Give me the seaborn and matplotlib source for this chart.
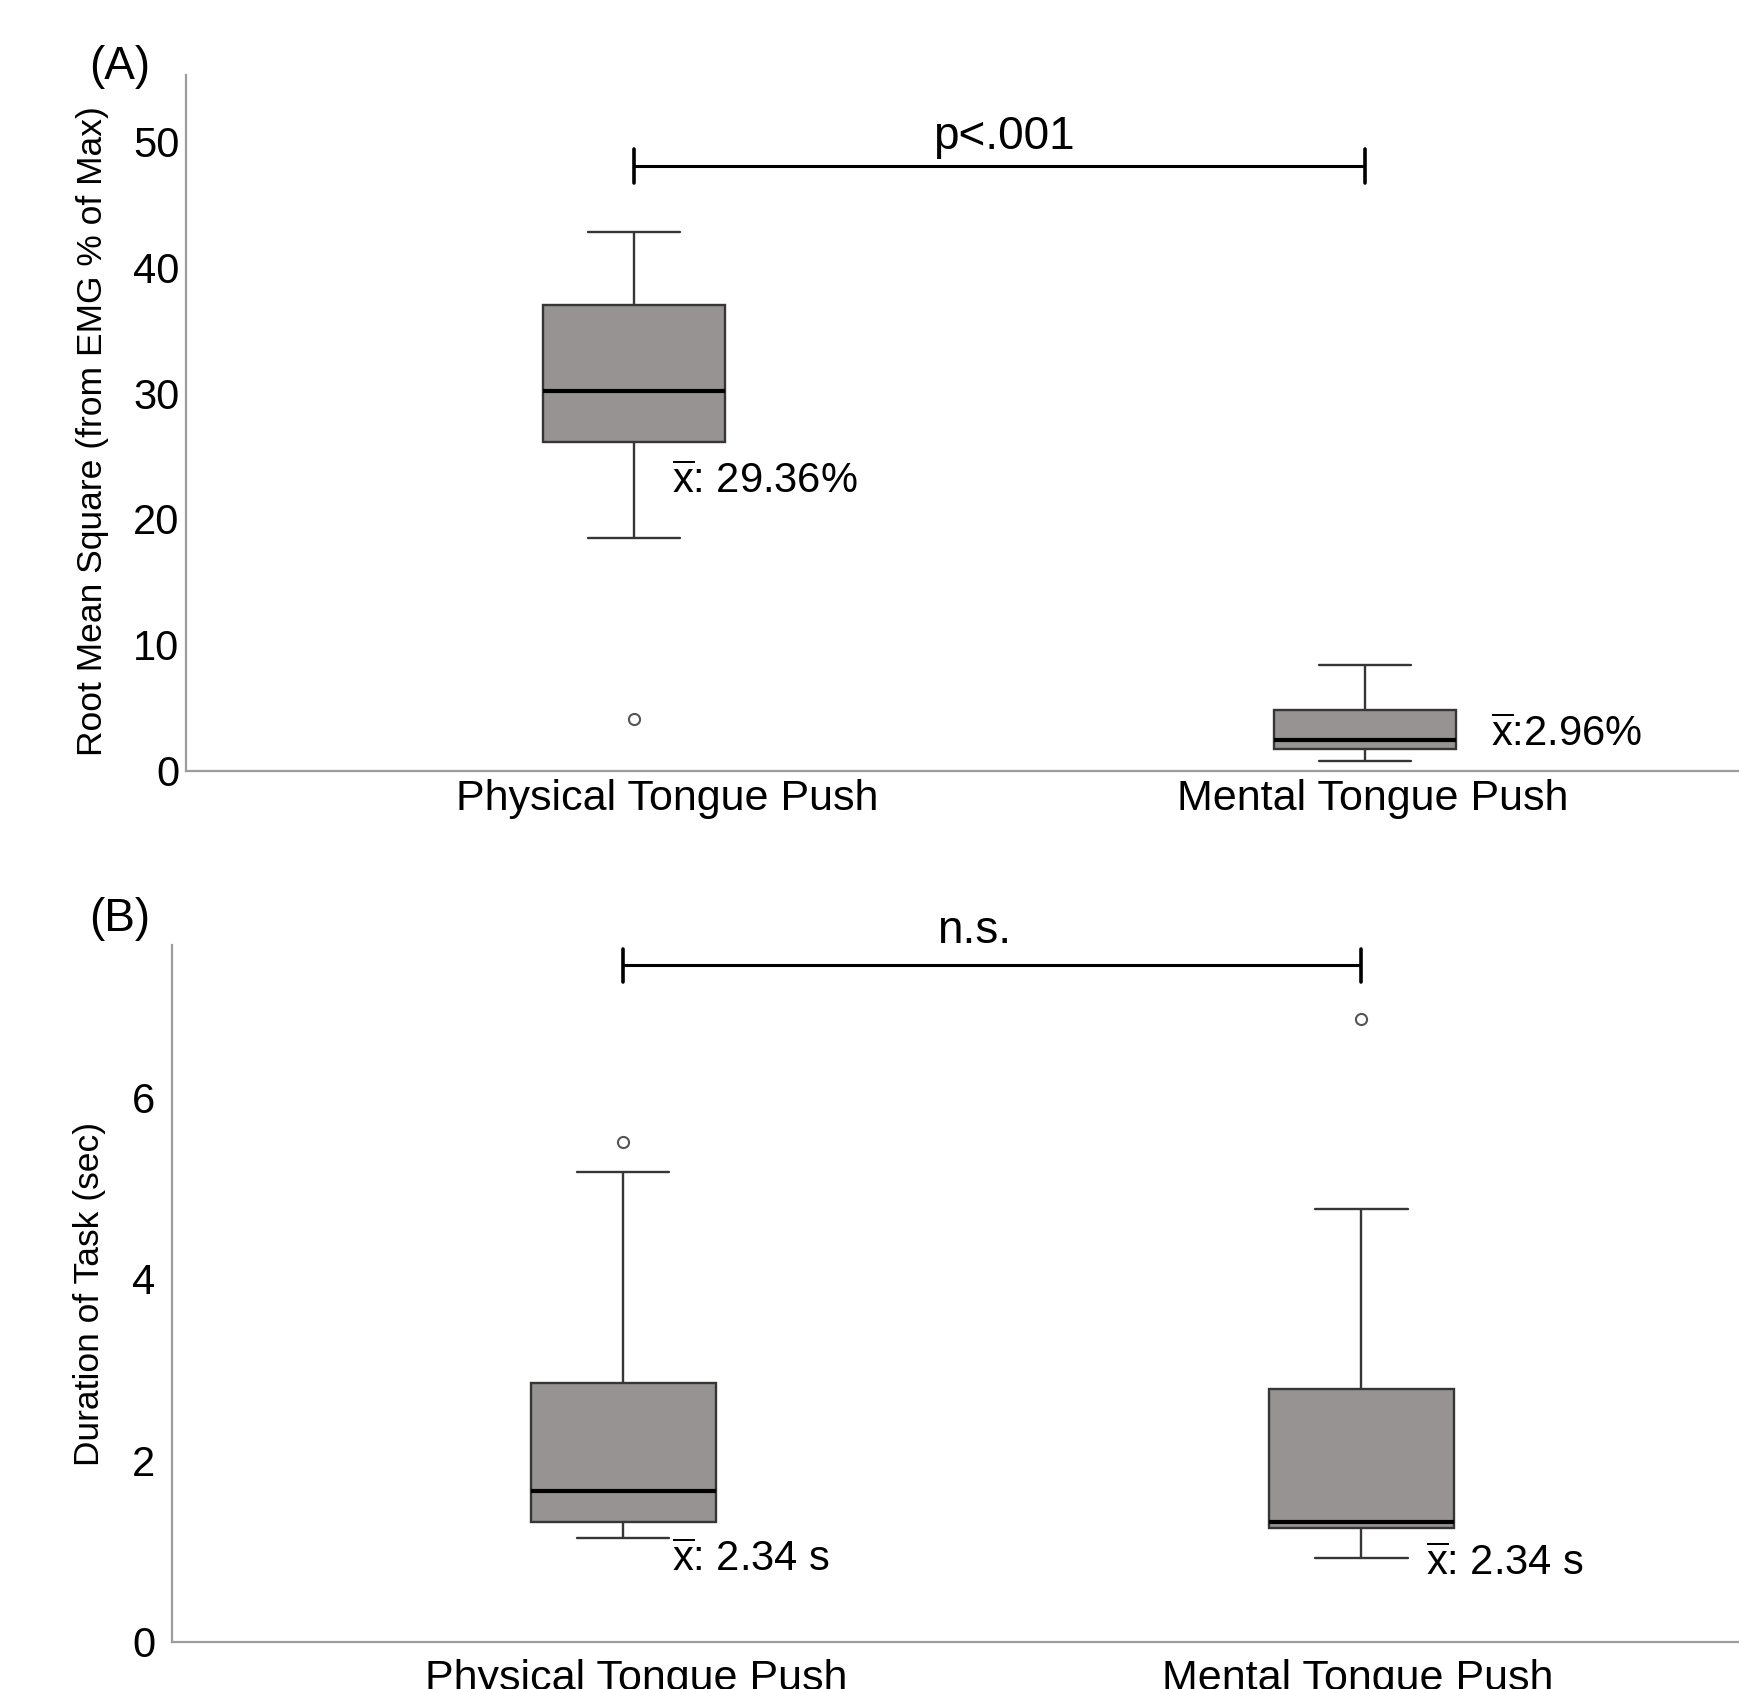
import numpy as np
import pandas as pd
import matplotlib
matplotlib.use('Agg')
import matplotlib.pyplot as plt
import matplotlib.transforms as mtransforms
from matplotlib import font_manager
import seaborn as sns

# Categories on the x axis
groups = ['Physical Tongue Push', 'Mental Tongue Push']

# Box summaries: lower whisker, Q1, median, Q3, upper whisker
rms_physical = [18.5, 26.15, 30.2, 37.0, 42.8]
rms_mental = [0.77, 1.72, 2.46, 4.8, 8.35]
rms_outliers = [[4.1], []]
rms_mean_labels = [r'$\overline{\mathrm{x}}$: 29.36%', r'$\overline{\mathrm{x}}$:2.96%']

dur_physical = [1.15, 1.32, 1.66, 2.85, 5.18]
dur_mental = [0.92, 1.26, 1.32, 2.79, 4.77]
dur_outliers = [[5.51], [6.86]]
dur_mean_labels = [r'$\overline{\mathrm{x}}$: 2.34 s', r'$\overline{\mathrm{x}}$: 2.34 s']

BOX_FILL = '#969392'
EDGE = '#363636'
SPINE = '#9c9c9c'


# Rebuild a point set whose quartiles / whiskers equal the read-off summary
def expand_summary(summary, outliers):
    lo, q1, med, q3, hi = summary
    if not outliers:
        return [lo, q1, med, q3, hi]
    core = [lo, q1, med, med, med, q3, hi]
    out = outliers[0]
    if out < lo:
        return [out] + core + [hi]
    return [lo] + core + [out]


def build_frame(phys, ment, outliers):
    rows = []
    for name, summ, outl in zip(groups, [phys, ment], outliers):
        for v in expand_summary(summ, outl):
            rows.append({'group': name, 'value': v})
    return pd.DataFrame(rows)


sns.set_style('white')
plt.rcParams['font.family'] = ['Liberation Sans', 'DejaVu Sans']
plt.rcParams['mathtext.fontset'] = 'custom'
plt.rcParams['mathtext.rm'] = 'Liberation Sans'
plt.rcParams['mathtext.it'] = 'Liberation Sans:italic'
plt.rcParams['mathtext.bf'] = 'Liberation Sans:bold'
for key in ['text.color', 'axes.labelcolor', 'xtick.color', 'ytick.color']:
    plt.rcParams[key] = 'black'

installed = {f.name for f in font_manager.fontManager.ttflist}
if 'Liberation Sans Narrow' in installed:
    label_family = ['Liberation Sans Narrow', 'Liberation Sans', 'DejaVu Sans']
    label_size = 30
else:
    label_family = ['Liberation Sans', 'DejaVu Sans']
    label_size = 25.5


def draw_panel(fig, ax, df, ylim, yticks, ylabel, label_x, label_y, ypad, xpad, shifts):
    sns.boxplot(data=df, x='group', y='value', order=groups, ax=ax,
                width=0.25, whis=1.6, color=BOX_FILL, saturation=1,
                linecolor=EDGE, linewidth=1.7,
                medianprops={'color': 'black', 'linewidth': 3},
                flierprops={'marker': 'o', 'markersize': 8,
                            'markerfacecolor': 'white',
                            'markeredgecolor': '#555555',
                            'markeredgewidth': 1.5})
    ax.set_xlim(-0.612, 1.513)
    ax.set_ylim(*ylim)
    ax.set_yticks(yticks)
    ax.set_xlabel('')
    ax.set_ylabel(ylabel, fontsize=label_size, family=label_family)
    ax.yaxis.set_label_coords(label_x, label_y)
    ax.tick_params(axis='y', length=0, pad=ypad, labelsize=30)
    ax.tick_params(axis='x', length=0, pad=xpad, labelsize=31)
    # the original labels sit a little off the box centres
    for lab, dx in zip(ax.get_xticklabels(), shifts):
        lab.set_transform(lab.get_transform() +
                          mtransforms.ScaledTranslation(dx / 100, 0, fig.dpi_scale_trans))
    sns.despine(ax=ax)
    for side in ['left', 'bottom']:
        ax.spines[side].set_color(SPINE)
        ax.spines[side].set_linewidth(1.6)


def draw_bracket(ax, y, half, text, text_y, text_x):
    ax.plot([0, 1], [y, y], color='black', lw=2.2, solid_capstyle='butt')
    for xx in [0, 1]:
        ax.plot([xx, xx], [y - half, y + half], color='black', lw=2.6,
                solid_capstyle='round')
    ax.text(text_x, text_y, text, ha='center', va='baseline', fontsize=33)


fig = plt.figure(figsize=(17.4, 16.89), dpi=100)
ax_a = fig.add_axes([0.10718, 0.54381, 0.89282, 0.41149])
ax_b = fig.add_axes([0.09868, 0.02783, 0.90132, 0.41238])

# (A) RMS amplitude
rms_df = build_frame(rms_physical, rms_mental, rms_outliers)
draw_panel(fig, ax_a, rms_df, (0, 55.25), [0, 10, 20, 30, 40, 50],
           'Root Mean Square (from EMG % of Max)', -0.0499, 0.4885, 5, 6, [33, 8])
draw_bracket(ax_a, 48.05, 1.33, 'p<.001', 49.4, 0.506)
ax_a.text(0.052, 22.06, rms_mean_labels[0], ha='left', va='baseline', fontsize=30)
ax_a.text(1.173, 1.95, rms_mean_labels[1], ha='left', va='baseline', fontsize=30)

# (B) task duration
dur_df = build_frame(dur_physical, dur_mental, dur_outliers)
draw_panel(fig, ax_b, dur_df, (0, 7.67), [0, 2, 4, 6],
           'Duration of Task (sec)', -0.0416, 0.5, 12, 12, [13, -4])
draw_bracket(ax_b, 7.45, 0.18, 'n.s.', 7.70, 0.475)
ax_b.text(0.066, 0.785, dur_mean_labels[0], ha='left', va='baseline', fontsize=30)
ax_b.text(1.087, 0.74, dur_mean_labels[1], ha='left', va='baseline', fontsize=30)

fig.text(120 / 1740, 1 - 66.6 / 1689, '(A)', ha='center', va='center', fontsize=33)
fig.text(120 / 1740, 1 - 919 / 1689, '(B)', ha='center', va='center', fontsize=33)

fig.savefig('out.png', dpi=100)
